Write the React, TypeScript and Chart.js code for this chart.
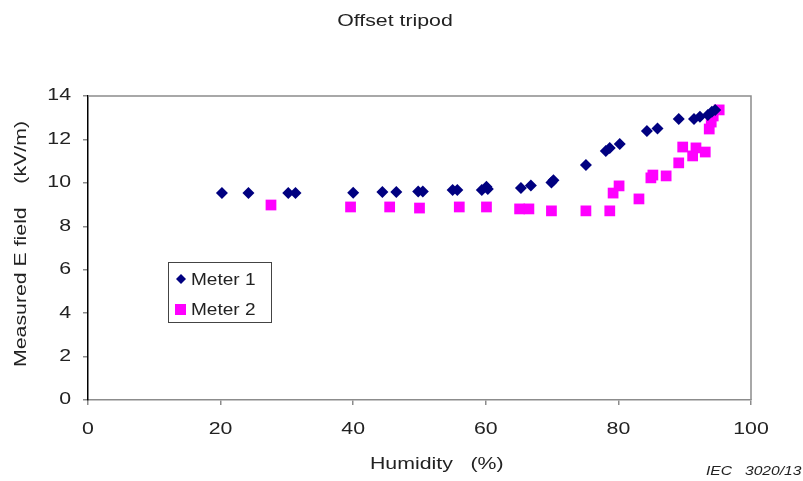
import React, { useEffect, useRef } from "react";
import { Chart, registerables } from "chart.js";

Chart.register(...registerables);

const chartTitle = "Offset tripod";
const xTitle = "Humidity   (%)";
const yTitle = "Measured E field    (kV/m)";
const footnote = "IEC   3020/13";

const meter1Label = "Meter 1";
const meter1X = [20.2, 24.2, 30.2, 31.3, 40.0, 44.4, 46.5, 49.8, 50.5, 55.0, 55.7, 59.4, 60.1, 60.3, 65.3, 66.8, 69.9, 70.2, 75.1, 78.1, 78.7, 80.2, 84.3, 85.9, 89.1, 91.4, 92.3, 93.5, 94.1, 94.6];
const meter1Y = [9.53, 9.53, 9.53, 9.53, 9.55, 9.58, 9.58, 9.6, 9.6, 9.67, 9.67, 9.67, 9.82, 9.72, 9.76, 9.88, 10.02, 10.12, 10.82, 11.47, 11.6, 11.79, 12.39, 12.5, 12.94, 12.94, 13.04, 13.13, 13.27, 13.36];

const meter2Label = "Meter 2";
const meter2X = [27.6, 39.6, 45.5, 50.0, 56.0, 60.1, 65.1, 66.5, 69.9, 75.1, 78.7, 79.2, 80.1, 83.1, 84.9, 85.2, 87.2, 89.1, 89.7, 91.2, 91.7, 93.1, 93.7, 94.0, 94.3, 95.2];
const meter2Y = [8.98, 8.89, 8.89, 8.84, 8.89, 8.89, 8.8, 8.8, 8.71, 8.71, 8.71, 9.53, 9.86, 9.26, 10.23, 10.36, 10.32, 10.92, 11.65, 11.24, 11.61, 11.42, 12.48, 12.8, 13.08, 13.36];

const xMin = 0, xMax = 100, xStep = 20;
const yMin = 0, yMax = 14, yStep = 2;

const FONT = "'Liberation Sans', Arial, sans-serif";
const TEXT = "#222";
const SX = 1.33; // horizontal stretch of the text in the reference

const pts = (xs: number[], ys: number[]) => xs.map((x, i) => ({ x, y: ys[i] }));

function stretchedText(ctx: CanvasRenderingContext2D, text: string, x: number, y: number, align: CanvasTextAlign, sx: number, rot = 0) {
  ctx.save();
  ctx.translate(x, y);
  if (rot) ctx.rotate(rot);
  ctx.scale(sx, 1);
  ctx.textAlign = align;
  ctx.textBaseline = "middle";
  ctx.fillText(text, 0, 0);
  ctx.restore();
}

const decorPlugin = {
  id: "decor",
  afterDraw(chart: any) {
    const { ctx, chartArea } = chart;
    const xs = chart.scales.x;
    const ys = chart.scales.y;
    ctx.save();
    // frame top and right
    ctx.strokeStyle = "#8c8c8c";
    ctx.lineWidth = 1.5;
    ctx.beginPath();
    ctx.moveTo(chartArea.left, chartArea.top);
    ctx.lineTo(chartArea.right, chartArea.top);
    ctx.lineTo(chartArea.right, chartArea.bottom);
    ctx.stroke();

    ctx.fillStyle = TEXT;
    ctx.font = `16px ${FONT}`;
    // tick labels from the library's scales
    xs.ticks.forEach((t: any) => {
      stretchedText(ctx, String(t.value), xs.getPixelForValue(t.value), chartArea.bottom + 30, "center", SX);
    });
    ys.ticks.forEach((t: any) => {
      stretchedText(ctx, String(t.value), chartArea.left - 17, ys.getPixelForValue(t.value), "right", SX);
    });

    // titles
    stretchedText(ctx, chartTitle, 395, 22, "center", SX);
    stretchedText(ctx, xTitle, 370, 465, "left", SX);
    stretchedText(ctx, yTitle, 22, (chartArea.top + chartArea.bottom) / 2 - 4, "center", SX, -Math.PI / 2);

    // footnote
    ctx.font = `italic 13px ${FONT}`;
    stretchedText(ctx, footnote, 706, 471, "left", 1.2);

    // legend box
    const bx = 168, by = 262, bw = 103, bh = 60;
    ctx.fillStyle = "#fff";
    ctx.fillRect(bx, by, bw, bh);
    ctx.strokeStyle = "#444";
    ctx.lineWidth = 1;
    ctx.strokeRect(bx + 0.5, by + 0.5, bw, bh);
    const ds = chart.data.datasets;
    const rows = [279, 309];
    ds.forEach((d: any, i: number) => {
      const cy = rows[i];
      ctx.fillStyle = d.backgroundColor;
      if (d.pointStyle === "rectRot") {
        ctx.beginPath();
        ctx.moveTo(181, cy - 5);
        ctx.lineTo(186, cy);
        ctx.lineTo(181, cy + 5);
        ctx.lineTo(176, cy);
        ctx.closePath();
        ctx.fill();
      } else {
        ctx.fillRect(175, cy - 5, 11, 11);
      }
      ctx.fillStyle = TEXT;
      ctx.font = `17px ${FONT}`;
      stretchedText(ctx, d.label, 191, cy + 1, "left", 1.12);
    });
    ctx.restore();
  },
};

export default function App() {
  const ref = useRef<HTMLCanvasElement>(null);
  useEffect(() => {
    document.body.style.margin = "0";
    const chart = new Chart(ref.current!, {
      type: "scatter",
      data: {
        datasets: [
          {
            label: meter1Label,
            data: pts(meter1X, meter1Y),
            pointStyle: "rectRot",
            backgroundColor: "#000080",
            borderColor: "#000080",
            borderWidth: 0,
            pointRadius: 6,
          },
          {
            label: meter2Label,
            data: pts(meter2X, meter2Y),
            pointStyle: "rect",
            backgroundColor: "#ff00ff",
            borderColor: "#ff00ff",
            borderWidth: 0,
            pointRadius: 7.6,
          },
        ],
      },
      options: {
        responsive: false,
        animation: false,
        layout: { padding: { top: 96, right: 52, left: 0, bottom: 0 } },
        plugins: {
          legend: { display: false },
          title: { display: false },
          tooltip: { enabled: false },
        },
        scales: {
          x: {
            type: "linear",
            min: xMin,
            max: xMax,
            afterFit: (s: any) => { s.height = 81; },
            ticks: { stepSize: xStep, display: false },
            grid: { drawOnChartArea: false, drawTicks: true, tickLength: 5, color: "#8c8c8c", lineWidth: 1.5 },
            border: { color: "#8c8c8c", width: 1.5 },
          },
          y: {
            type: "linear",
            min: yMin,
            max: yMax,
            afterFit: (s: any) => { s.width = 88; },
            ticks: { stepSize: yStep, display: false },
            grid: { drawOnChartArea: false, drawTicks: true, tickLength: 5, color: "#8c8c8c", lineWidth: 1.5 },
            border: { color: "#000", width: 1.5 },
          },
        },
      },
      plugins: [decorPlugin],
    });
    return () => chart.destroy();
  }, []);
  return <canvas ref={ref} width={803} height={481} style={{ display: "block" }} />;
}
